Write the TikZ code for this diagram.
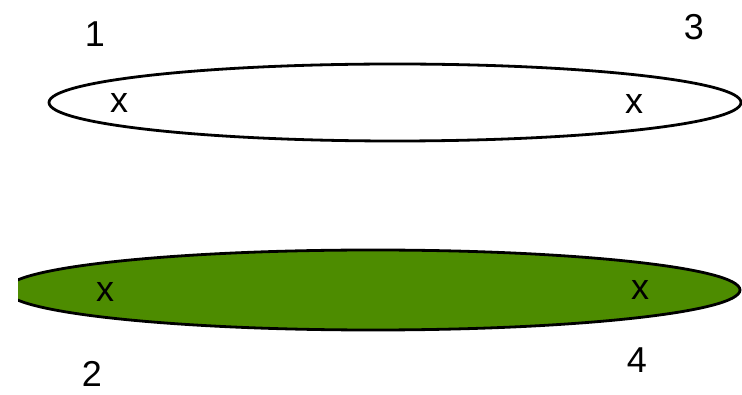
\documentclass[tikz,border=0pt]{standalone}
\usepackage{fontspec}
\setmainfont{Liberation Sans}
\usetikzlibrary{shapes.geometric}
\definecolor{leafgreen}{RGB}{77,140,0}
\tikzset{
  lbl/.style={inner sep=0pt, anchor=base, font=\fontsize{36}{36}\selectfont},
  oval/.style={ellipse, draw=black, line width=2.8pt, inner sep=0pt}
}
\begin{document}
\begin{tikzpicture}[x=1pt,y=-1pt]
\useasboundingbox (0,0) rectangle (742,395);
\node[oval, minimum width=692pt, minimum height=77pt] (top) at (395,102.5) {};
\begin{scope}
\clip (18,0) rectangle (742,395);
\node[oval, fill=leafgreen, minimum width=734pt, minimum height=80pt] (bot) at (373,290) {};
\end{scope}
\node[lbl] (n1) at (95,47) {1};
\node[lbl] (n3) at (694,40) {3};
\node[lbl] (n2) at (92,387) {2};
\node[lbl] (n4) at (637,373) {4};
\node[lbl] (x1) at (119,113) {x};
\node[lbl] (x3) at (634,114) {x};
\node[lbl] (x2) at (105,302) {x};
\node[lbl] (x4) at (640,300) {x};
\end{tikzpicture}
\end{document}
